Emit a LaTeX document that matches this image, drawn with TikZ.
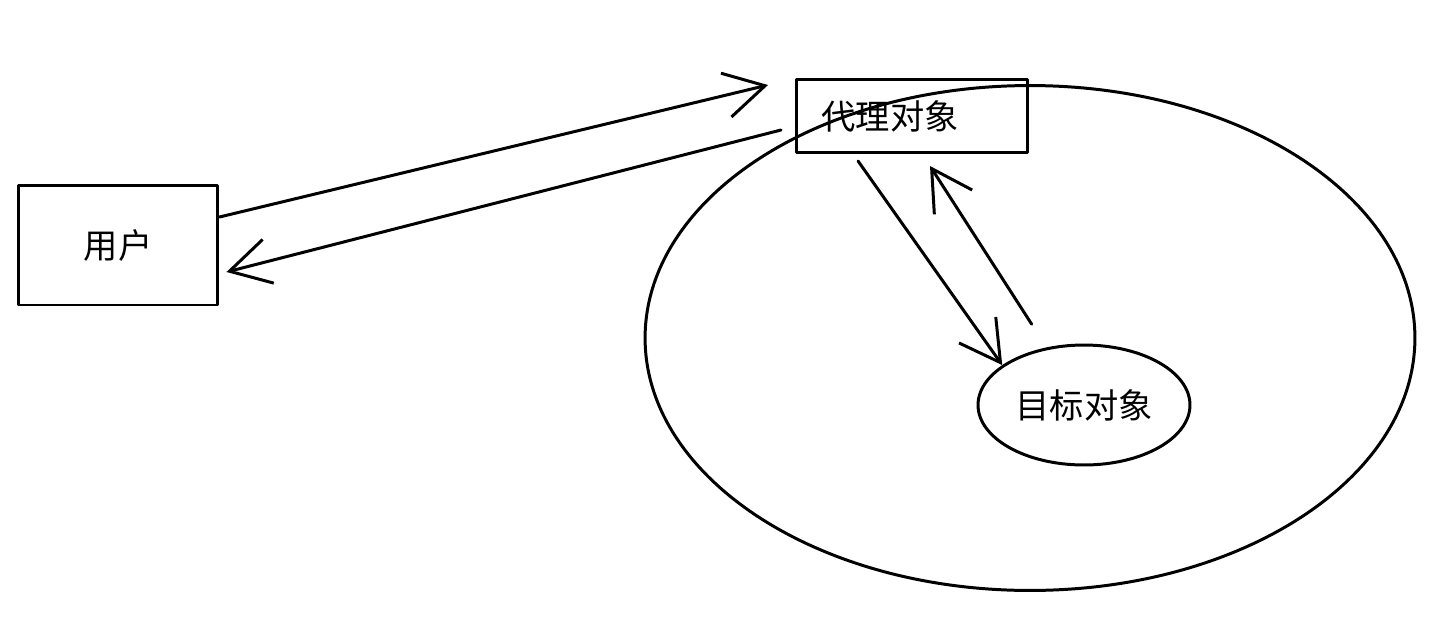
\documentclass[tikz,border=0pt]{standalone}
\usepackage{fontspec}
\usepackage{tikz}
\usetikzlibrary{arrows.meta, shapes.geometric}
\newfontfamily\cjk{Noto Sans CJK SC}
\tikzset{
  every node/.style={font=\cjk\fontsize{19.5}{22}\selectfont},
}

\begin{document}
\begin{tikzpicture}[
  x=0.02cm, y=-0.02cm,
  line width=1.7pt, line cap=round, line join=round,
  sketchbox/.style={draw, rectangle, inner sep=0pt},
  zone/.style={draw, ellipse, inner sep=0pt},
  arrow/.style={-{Straight Barb[length=8mm, width=9mm, line width=1.7pt]}}
]
  \useasboundingbox (0,0) rectangle (1430,616);

  \node[zone, minimum width=15.4cm, minimum height=10.1cm] (scope) at (1030,338) {};
  \node[sketchbox, minimum width=4cm, minimum height=2.4cm] (user) at (118,245) {用户};
  \node[sketchbox, minimum width=4.62cm, minimum height=1.46cm,
        text width=3.62cm, inner xsep=0.5cm, align=left] (proxy) at (912,116) {代理对象};
  \node[zone, minimum width=4.24cm, minimum height=2.4cm] (target) at (1084,405) {目标对象};

  \draw[arrow] ([yshift=0.56cm]user.east) -- ([xshift=-0.54cm, yshift=0.62cm]proxy.west);
  \draw[arrow] ([xshift=-0.28cm, yshift=-0.28cm]proxy.west) -- ([xshift=0.14cm, yshift=-0.54cm]user.east);
  \draw[arrow] ([xshift=-1.08cm, yshift=-0.14cm]proxy.south) -- (target.154);
  \draw[arrow, shorten <=0.55cm] (target.123) -- ([xshift=0.36cm, yshift=-0.24cm]proxy.south);
\end{tikzpicture}
\end{document}
